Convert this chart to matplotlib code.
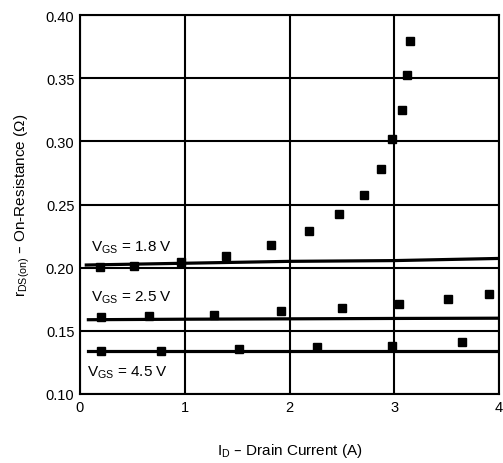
import matplotlib
matplotlib.use("Agg")
import matplotlib.pyplot as plt

plt.rcParams['font.family'] = ['Liberation Sans', 'DejaVu Sans']
plt.rcParams['mathtext.default'] = 'regular'

# measured on-resistance (ohm) vs drain current (A)
id_18 = [0.19, 0.52, 0.96, 1.39, 1.82, 2.19, 2.47, 2.71, 2.87, 2.98, 3.07, 3.125, 3.15]
rds_18 = [0.2008, 0.2015, 0.2047, 0.209, 0.2177, 0.229, 0.2423, 0.2578, 0.278, 0.302, 0.3249, 0.3528, 0.3797]
id_25 = [0.20, 0.656, 1.28, 1.92, 2.50, 3.05, 3.51, 3.90]
rds_25 = [0.1607, 0.1618, 0.1625, 0.1655, 0.168, 0.171, 0.175, 0.179]
id_45 = [0.20, 0.77, 1.52, 2.26, 2.98, 3.65]
rds_45 = [0.1343, 0.1343, 0.136, 0.1375, 0.1383, 0.1414]

# typical curves
fit_x_18 = [0.06, 1.0, 2.0, 3.0, 4.0]
fit_y_18 = [0.2021, 0.2035, 0.205, 0.2056, 0.2073]
fit_x_25 = [0.08, 1.0, 2.0, 3.0, 4.0]
fit_y_25 = [0.1588, 0.1592, 0.1595, 0.1598, 0.160]
fit_x_45 = [0.08, 4.0]
fit_y_45 = [0.1343, 0.1343]

fig = plt.figure(figsize=(5.03, 4.64), dpi=100)
ax = fig.add_axes([80 / 503, 1 - 395 / 464, 419 / 503, 379 / 464])

ax.set_xlim(0, 4)
ax.set_ylim(0.10, 0.40)
ax.set_xticks([0, 1, 2, 3, 4])
ax.set_yticks([0.10, 0.15, 0.20, 0.25, 0.30, 0.35, 0.40])
ax.set_yticklabels(['0.10', '0.15', '0.20', '0.25', '0.30', '0.35', '0.40'])
ax.grid(True, color='black', linewidth=1.5)
ax.set_axisbelow(True)
for s in ax.spines.values():
    s.set_linewidth(1.5)
ax.tick_params(length=0, labelsize=10.5, pad=4)

for fx, fy in [(fit_x_18, fit_y_18), (fit_x_25, fit_y_25), (fit_x_45, fit_y_45)]:
    ax.plot(fx, fy, color='black', linewidth=2.3)
for px, py in [(id_18, rds_18), (id_25, rds_25), (id_45, rds_45)]:
    ax.plot(px, py, linestyle='', marker='s', markersize=5.5, color='black')

ax.text(0.105, 0.2135, '$V_{GS}$ = 1.8 V', fontsize=11)
ax.text(0.105, 0.1740, '$V_{GS}$ = 2.5 V', fontsize=11)
ax.text(0.07, 0.1143, '$V_{GS}$ = 4.5 V', fontsize=11)

ax.set_xlabel('$I_D$ – Drain Current (A)', fontsize=11, labelpad=20)
ax.set_ylabel('$r_{DS(on)}$ – On-Resistance (Ω)', fontsize=11, labelpad=10)

fig.savefig('out.png', dpi=100)
